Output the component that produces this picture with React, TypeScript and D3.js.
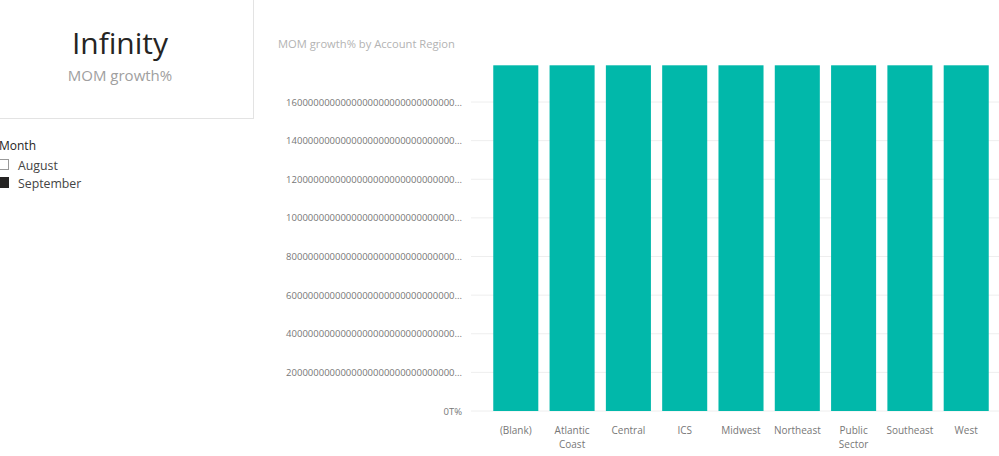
import React, { useEffect, useRef } from "react";
import * as d3 from "d3";

const regions: string[][] = [
  ["(Blank)"],
  ["Atlantic", "Coast"],
  ["Central"],
  ["ICS"],
  ["Midwest"],
  ["Northeast"],
  ["Public", "Sector"],
  ["Southeast"],
  ["West"],
];
// values in units of 1e29 %, all bars run past the top tick ("Infinity")
const momGrowth: number[] = [1790, 1790, 1790, 1790, 1790, 1790, 1790, 1790, 1790];
const yTicks: number[] = [0, 200, 400, 600, 800, 1000, 1200, 1400, 1600];
const months: string[] = ["August", "September"];
const monthSelected: boolean[] = [false, true];

const font = "'Segoe UI', 'Open Sans', 'Noto Sans', sans-serif";

const settings = {
  width: 999,
  height: 456,
  plot: { left: 482, right: 1000, top: 65, bottom: 411 },
};

function tickLabel(t: number) {
  if (t === 0) return "0T%";
  const s = String(t) + "0".repeat(29);
  return s.slice(0, 31) + "...";
}

export default function App() {
  const svgRef = useRef<SVGSVGElement>(null);

  useEffect(() => {
    document.body.style.margin = "0";
    const svg = d3.select(svgRef.current);
    svg.selectAll("*").remove();
    const { plot } = settings;

    // card
    svg
      .append("rect")
      .attr("x", -2)
      .attr("y", -2)
      .attr("width", 255.5)
      .attr("height", 120.5)
      .attr("fill", "#fff")
      .attr("stroke", "#e3e3e3");
    svg
      .append("text")
      .attr("x", 120)
      .attr("y", 54)
      .attr("text-anchor", "middle")
      .attr("font-family", font)
      .attr("font-size", 30)
      .attr("fill", "#252423")
      .text("Infinity");
    svg
      .append("text")
      .attr("x", 120)
      .attr("y", 81)
      .attr("text-anchor", "middle")
      .attr("font-family", font)
      .attr("font-size", 15)
      .attr("fill", "#a0a0a0")
      .text("MOM growth%");

    // slicer
    svg
      .append("text")
      .attr("x", -1)
      .attr("y", 150)
      .attr("font-family", font)
      .attr("font-size", 12)
      .attr("fill", "#252423")
      .text("Month");
    const items = svg
      .append("g")
      .selectAll("g")
      .data(months)
      .join("g")
      .attr("transform", (_d, i) => `translate(0,${159 + i * 18})`);
    items
      .append("rect")
      .attr("x", -1.5)
      .attr("y", 0.5)
      .attr("width", 10)
      .attr("height", 10)
      .attr("fill", (_d, i) => (monthSelected[i] ? "#252423" : "#fff"))
      .attr("stroke", (_d, i) => (monthSelected[i] ? "#252423" : "#999"));
    items
      .append("text")
      .attr("x", 18)
      .attr("y", 11)
      .attr("font-family", font)
      .attr("font-size", 12.3)
      .attr("fill", "#444")
      .text((d) => d);

    // chart title
    svg
      .append("text")
      .attr("x", 278)
      .attr("y", 48)
      .attr("font-family", font)
      .attr("font-size", 11.2)
      .attr("fill", "#b3b3b3")
      .text("MOM growth% by Account Region");

    const x = d3
      .scaleBand<number>()
      .domain(d3.range(regions.length))
      .range([plot.left, plot.right])
      .padding(0.2);
    const y = d3
      .scaleLinear()
      .domain([0, 1600])
      .range([plot.bottom, 102]);

    // gridlines + y labels
    const grid = svg.append("g");
    grid
      .selectAll("line")
      .data(yTicks)
      .join("line")
      .attr("x1", 471)
      .attr("x2", settings.width)
      .attr("y1", (d) => y(d))
      .attr("y2", (d) => y(d))
      .attr("stroke", "#eeeeee")
      .attr("stroke-width", 1);
    grid
      .selectAll("text")
      .data(yTicks)
      .join("text")
      .attr("x", 462)
      .attr("y", (d) => y(d) + 3.5)
      .attr("text-anchor", "end")
      .attr("font-family", font)
      .attr("font-size", 9.5)
      .attr("fill", "#777")
      .text((d) => tickLabel(d));

    // bars
    svg
      .append("g")
      .attr("fill", "#01B8AA")
      .selectAll("rect")
      .data(momGrowth)
      .join("rect")
      .attr("x", (_d, i) => x(i) as number)
      .attr("y", (d) => y(d))
      .attr("width", x.bandwidth())
      .attr("height", (d) => y(0) - y(d));

    // x labels
    const xl = svg
      .append("g")
      .selectAll("text")
      .data(regions)
      .join("text")
      .attr("text-anchor", "middle")
      .attr("font-family", font)
      .attr("font-size", 10)
      .attr("fill", "#777")
      .attr("transform", (_d, i) => `translate(${(x(i) as number) + x.bandwidth() / 2},434)`);
    xl.selectAll("tspan")
      .data((d) => d)
      .join("tspan")
      .attr("x", 0)
      .attr("y", (_d, j) => j * 13.5)
      .text((d) => d);
  }, []);

  return (
    <svg
      ref={svgRef}
      width={settings.width}
      height={settings.height}
      style={{ position: "absolute", left: 0, top: 0, background: "#fff" }}
    ></svg>
  );
}
